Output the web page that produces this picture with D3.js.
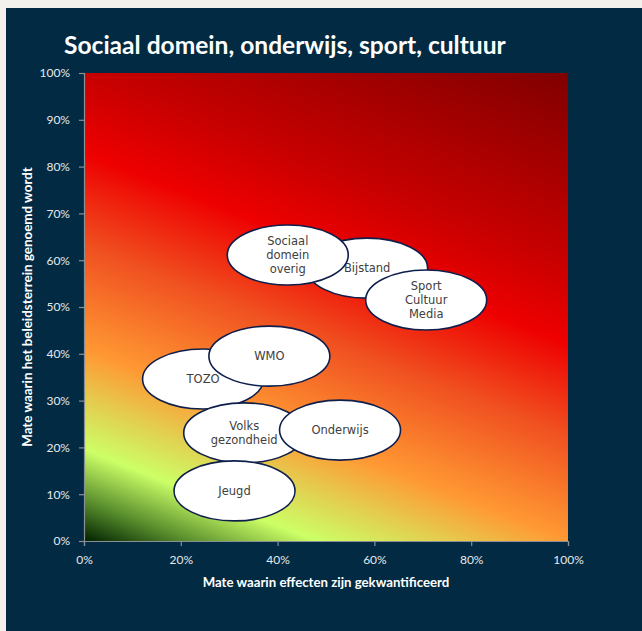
<!DOCTYPE html>
<html>
<head>
<meta charset="utf-8">
<script src="https://cdn.jsdelivr.net/npm/d3@7"></script>
<style>
  html, body { margin: 0; padding: 0; background: #f3f1ec; }
  svg { display: block; }
</style>
</head>
<body>
<script>
// ---- data ----
const names = ["Bijstand", "Sociaal domein overig", "Sport Cultuur Media", "TOZO", "WMO", "Volks gezondheid", "Onderwijs", "Jeugd"];
const labelLines = [["Bijstand"], ["Sociaal", "domein", "overig"], ["Sport", "Cultuur", "Media"], ["TOZO"], ["WMO"], ["Volks", "gezondheid"], ["Onderwijs"], ["Jeugd"]];
const xValues = [0.585, 0.421, 0.707, 0.246, 0.383, 0.331, 0.529, 0.311]; // Mate waarin effecten zijn gekwantificeerd
const yValues = [0.583, 0.611, 0.515, 0.346, 0.395, 0.231, 0.237, 0.107]; // Mate waarin het beleidsterrein genoemd wordt
const xTicks = [0, 0.2, 0.4, 0.6, 0.8, 1.0];
const yTicks = [0, 0.1, 0.2, 0.3, 0.4, 0.5, 0.6, 0.7, 0.8, 0.9, 1.0];
const title = "Sociaal domein, onderwijs, sport, cultuur";
const xTitle = "Mate waarin effecten zijn gekwantificeerd";
const yTitle = "Mate waarin het beleidsterrein genoemd wordt";

// ---- layout ----
const W = 642, H = 631;
const plot = { left: 84, right: 568, top: 73, bottom: 541 };

const svg = d3.select("body").append("svg").attr("width", W).attr("height", H);

// outer light frame + navy panel
svg.append("rect").attr("x", 0).attr("y", 0).attr("width", W).attr("height", H).attr("fill", "#f3f1ec");
svg.append("rect").attr("x", 6).attr("y", 8).attr("width", W - 6).attr("height", H - 8).attr("fill", "#022b43");

const x = d3.scaleLinear().domain([0, 1]).range([plot.left, plot.right]);
const y = d3.scaleLinear().domain([0, 1]).range([plot.bottom, plot.top]);

// ---- diagonal gradient background ----
const defs = svg.append("defs");
const pw = plot.right - plot.left, ph = plot.bottom - plot.top;
const a = 1, b = 2.46, tot = a + b;
const gx = a / pw, gy = -b / ph;
const g2 = gx * gx + gy * gy;
const vx = tot * gx / g2, vy = tot * gy / g2;
const grad = defs.append("linearGradient").attr("id", "bg")
  .attr("gradientUnits", "userSpaceOnUse")
  .attr("x1", plot.left).attr("y1", plot.bottom)
  .attr("x2", plot.left + vx).attr("y2", plot.bottom + vy);
[[0, "#002000"], [0.06, "#558a2b"], [0.139, "#ccff66"], [0.205, "#e0d453"], [0.29, "#ff9933"],
 [0.45, "#f05020"], [0.59, "#ee0000"], [0.71, "#c80000"], [1, "#800000"]]
  .forEach(([o, c]) => grad.append("stop").attr("offset", o).attr("stop-color", c));

svg.append("rect").attr("x", plot.left).attr("y", plot.top).attr("width", pw).attr("height", ph)
  .attr("fill", "url(#bg)");

// ---- axes ----
const fmt = d3.format(".0%");
const xAxis = svg.append("g").attr("transform", `translate(0,${plot.bottom})`)
  .call(d3.axisBottom(x).tickValues(xTicks).tickFormat(fmt).tickSize(5).tickPadding(9));
const yAxis = svg.append("g").attr("transform", `translate(${plot.left},0)`)
  .call(d3.axisLeft(y).tickValues(yTicks).tickFormat(fmt).tickSize(5).tickPadding(9));
[xAxis, yAxis].forEach(g => {
  g.select(".domain").attr("stroke", "#8a8f94").attr("stroke-width", 1.2);
  g.selectAll(".tick line").attr("stroke", "#8a8f94").attr("stroke-width", 1.2);
  g.selectAll(".tick text").attr("fill", "#e6e8ea").style("font-family", "Lato, 'Open Sans', sans-serif").style("font-size", "12px");
});

// ---- titles ----
function fitText(sel, target) {
  const len = sel.node().getComputedTextLength();
  const fs = parseFloat(sel.style("font-size"));
  sel.style("font-size", (fs * target / len) + "px");
}
const t = svg.append("text").attr("x", 64).attr("y", 54).text(title)
  .attr("fill", "#ffffff").style("font-family", "Lato, 'Open Sans', sans-serif")
  .style("font-weight", "bold").style("font-size", "22px");
fitText(t, 442);

const xt = svg.append("text").attr("x", (plot.left + plot.right) / 2).attr("y", 587)
  .attr("text-anchor", "middle").text(xTitle)
  .attr("fill", "#ffffff").style("font-family", "Lato, 'Open Sans', sans-serif")
  .style("font-weight", "bold").style("font-size", "12px");
fitText(xt, 247);

const yt = svg.append("text")
  .attr("transform", `translate(32,${(plot.top + plot.bottom) / 2}) rotate(-90)`)
  .attr("text-anchor", "middle").text(yTitle)
  .attr("fill", "#ffffff").style("font-family", "Lato, 'Open Sans', sans-serif")
  .style("font-weight", "bold").style("font-size", "12px");
fitText(yt, 280);

// ---- bubbles ----
const rx = 60.5, ry = 30;
const data = names.map((n, i) => ({ name: n, lines: labelLines[i], x: xValues[i], y: yValues[i] }));
const bubbles = svg.append("g").selectAll("g").data(data).join("g")
  .attr("transform", d => `translate(${x(d.x)},${y(d.y)})`);
bubbles.append("ellipse").attr("rx", rx).attr("ry", ry)
  .attr("fill", "#ffffff").attr("stroke", "#0f1f4c").attr("stroke-width", 1.6);
const lh = 14;
bubbles.append("text")
  .attr("text-anchor", "middle")
  .attr("fill", "#404040")
  .style("font-family", "'DejaVu Sans', Verdana, sans-serif")
  .style("font-size", "11.5px")
  .selectAll("tspan").data(d => d.lines.map((l, j) => ({ l, j, n: d.lines.length }))).join("tspan")
  .attr("x", 0)
  .attr("y", d => (d.j - (d.n - 1) / 2) * lh + 4)
  .text(d => d.l);
</script>
</body>
</html>
